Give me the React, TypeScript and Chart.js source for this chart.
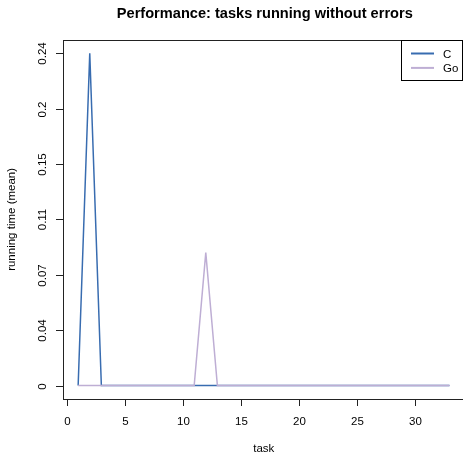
import React, { useEffect, useRef } from "react";
import { Chart, registerables } from "chart.js";

Chart.register(...registerables);

const tasks: number[] = Array.from({ length: 33 }, (_, i) => i + 1);
const cValues: number[] = [0, 0.24, 0, 0, 0, 0, 0, 0, 0, 0, 0, 0, 0, 0, 0, 0, 0, 0, 0, 0, 0, 0, 0, 0, 0, 0, 0, 0, 0, 0, 0, 0, 0];
const goValues: number[] = [0, 0, 0, 0, 0, 0, 0, 0, 0, 0, 0, 0.096, 0, 0, 0, 0, 0, 0, 0, 0, 0, 0, 0, 0, 0, 0, 0, 0, 0, 0, 0, 0, 0];
const xTickValues: number[] = [0, 5, 10, 15, 20, 25, 30];
const yTickValues: number[] = [0, 0.04, 0.08, 0.12, 0.16, 0.2, 0.24];
const yTickLabels: string[] = ["0", "0.04", "0.07", "0.11", "0.15", "0.2", "0.24"];
const seriesNames: string[] = ["C", "Go"];
const seriesColors: string[] = ["#386CB0", "#BEAED4"];
const titleText = "Performance: tasks running without errors";
const xTitle = "task";
const yTitle = "running time (mean)";

const FONT = "'Liberation Sans', Arial, Helvetica, sans-serif";

const decorPlugin = {
  id: "decor",
  afterDraw(chart: any) {
    const ctx = chart.ctx as CanvasRenderingContext2D;
    const { left, right, top, bottom } = chart.chartArea;
    const xs = chart.scales.x;
    const ys = chart.scales.y;
    ctx.save();
    // box
    ctx.strokeStyle = "#222";
    ctx.lineWidth = 1;
    ctx.strokeRect(Math.round(left) + 0.5, Math.round(top) + 0.5, Math.round(right) - Math.round(left), Math.round(bottom) - Math.round(top));
    // x ticks
    ctx.fillStyle = "#000";
    ctx.font = `11.5px ${FONT}`;
    ctx.textAlign = "center";
    ctx.textBaseline = "alphabetic";
    xTickValues.forEach((v) => {
      const px = Math.round(xs.getPixelForValue(v)) + 0.5;
      ctx.beginPath();
      ctx.moveTo(px, Math.round(bottom));
      ctx.lineTo(px, Math.round(bottom) + 7);
      ctx.stroke();
      ctx.fillText(String(v), px, 425);
    });
    // y ticks
    yTickValues.forEach((v, i) => {
      const py = Math.round(ys.getPixelForValue(v)) + 0.5;
      ctx.beginPath();
      ctx.moveTo(Math.round(left), py);
      ctx.lineTo(Math.round(left) - 7, py);
      ctx.stroke();
      ctx.save();
      ctx.translate(46, py);
      ctx.rotate(-Math.PI / 2);
      ctx.textAlign = "center";
      ctx.textBaseline = "alphabetic";
      ctx.fillText(yTickLabels[i], 0, 0);
      ctx.restore();
    });
    // axis titles
    ctx.textAlign = "center";
    ctx.fillText(xTitle, (left + right) / 2, 452);
    ctx.save();
    ctx.translate(15, (top + bottom) / 2);
    ctx.rotate(-Math.PI / 2);
    ctx.fillText(yTitle, 0, 0);
    ctx.restore();
    // title
    ctx.font = `bold 14.6px ${FONT}`;
    ctx.fillText(titleText, (left + right) / 2 + 1, 18);
    // legend
    const lx = 401.5, ly = 40.5, lw = 61, lh = 40;
    ctx.fillStyle = "#fff";
    ctx.fillRect(lx, ly, lw, lh);
    ctx.strokeStyle = "#000";
    ctx.strokeRect(lx, ly, lw, lh);
    ctx.font = `11.5px ${FONT}`;
    ctx.textAlign = "left";
    seriesNames.forEach((name, i) => {
      const yy = 53.5 + i * 14.4;
      ctx.strokeStyle = seriesColors[i];
      ctx.lineWidth = 2;
      ctx.beginPath();
      ctx.moveTo(411, yy);
      ctx.lineTo(434, yy);
      ctx.stroke();
      ctx.fillStyle = "#000";
      ctx.fillText(name, 443, yy + 4);
    });
    ctx.restore();
  },
};

export default function App() {
  const ref = useRef<HTMLCanvasElement | null>(null);
  useEffect(() => {
    if (!ref.current) return;
    const chart = new Chart(ref.current, {
      type: "line",
      data: {
        labels: tasks,
        datasets: [
          {
            label: seriesNames[0],
            data: tasks.map((t, i) => ({ x: t, y: cValues[i] })),
            borderColor: seriesColors[0],
            borderWidth: 1.5,
            pointRadius: 0,
            fill: false,
            tension: 0,
            order: 1,
          },
          {
            label: seriesNames[1],
            data: tasks.map((t, i) => ({ x: t, y: goValues[i] })),
            borderColor: seriesColors[1],
            borderWidth: 1.5,
            pointRadius: 0,
            fill: false,
            tension: 0,
            order: 0,
          },
        ],
      },
      options: {
        animation: false,
        responsive: false,
        devicePixelRatio: 1,
        layout: { padding: { left: 63.3, top: 40, right: 15.7, bottom: 62.2 } },
        plugins: { legend: { display: false }, title: { display: false }, tooltip: { enabled: false } },
        scales: {
          x: { type: "linear", min: -0.28, max: 34.28, display: false },
          y: { type: "linear", min: -0.0096, max: 0.2496, display: false },
        },
      },
      plugins: [decorPlugin],
    });
    return () => chart.destroy();
  }, []);
  return (
    <div style={{ position: "fixed", left: 0, top: 0, width: 463, height: 461, overflow: "hidden", background: "#fff" }}>
      <canvas ref={ref} width={480} height={461} style={{ display: "block" }} />
    </div>
  );
}
